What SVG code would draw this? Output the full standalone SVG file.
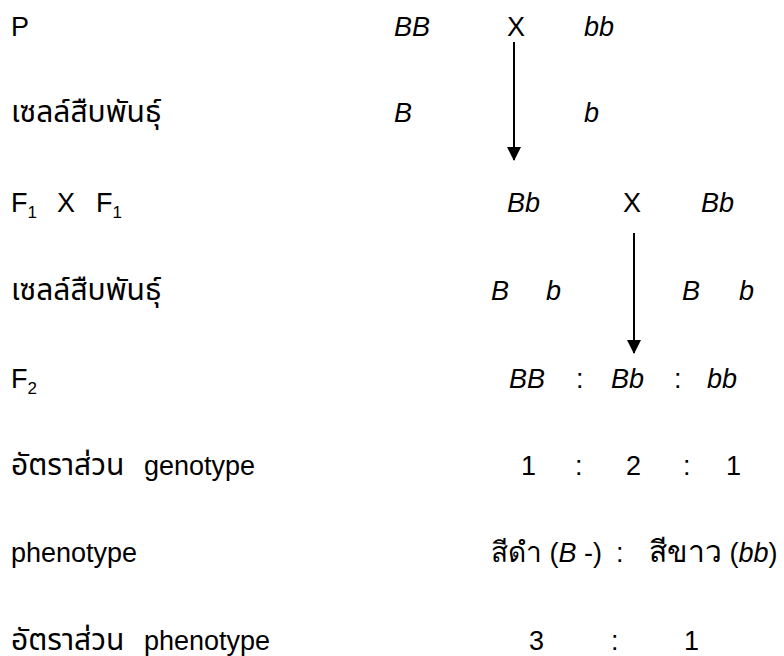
<svg xmlns="http://www.w3.org/2000/svg" width="784" height="656" viewBox="0 0 784 656">
<style>
text{font-family:"Liberation Sans","Noto Sans",Arial,sans-serif;font-size:27px;fill:#000}
.i{font-style:italic}
.th{font-family:"Liberation Sans","Noto Sans Thai","DejaVu Sans","Noto Sans",sans-serif;font-size:30px}
.sub{font-size:17px}
.conn{stroke:#000;stroke-width:2;fill:none}
</style>
<defs>
<marker id="ah" markerWidth="14" markerHeight="14" refX="13" refY="7" orient="auto" markerUnits="userSpaceOnUse" viewBox="0 0 14 14">
<path d="M0,0 L14,7 L0,14 Z" fill="#000"/>
</marker>
</defs>
<rect width="784" height="656" fill="#fff"/>
<g id="labels">
<text x="11" y="36">P</text>
<text class="th" x="11" y="122">เซลล์สืบพันธุ์</text>
<text x="11" y="212">F<tspan class="sub" dy="6">1</tspan><tspan dy="-6" x="57">X</tspan><tspan x="96">F</tspan><tspan class="sub" dy="6">1</tspan></text>
<text class="th" x="11" y="300">เซลล์สืบพันธุ์</text>
<text x="11" y="388">F<tspan class="sub" dy="6">2</tspan></text>
<text x="11" y="475"><tspan class="th">อัตราส่วน</tspan> <tspan x="144">genotype</tspan></text>
<text x="11" y="562">phenotype</text>
<text x="11" y="650"><tspan class="th">อัตราส่วน</tspan> <tspan x="144">phenotype</tspan></text>
</g>
<g id="parents">
<text class="i" x="394" y="36">BB</text>
<text x="507" y="36">X</text>
<text class="i" x="584" y="36">bb</text>
</g>
<g id="gametes1">
<text class="i" x="394" y="122">B</text>
<text class="i" x="584" y="122">b</text>
</g>
<g id="f1cross">
<text class="i" x="507" y="212">Bb</text>
<text x="623" y="212">X</text>
<text class="i" x="701" y="212">Bb</text>
</g>
<g id="gametes2">
<text class="i" x="491" y="300">B</text>
<text class="i" x="546" y="300">b</text>
<text class="i" x="682" y="300">B</text>
<text class="i" x="739" y="300">b</text>
</g>
<g id="f2">
<text class="i" x="509" y="388">BB</text>
<text x="576" y="388">:</text>
<text class="i" x="611" y="388">Bb</text>
<text x="674" y="388">:</text>
<text class="i" x="707" y="388">bb</text>
</g>
<g id="genoratio">
<text x="521" y="475">1</text>
<text x="575" y="475">:</text>
<text x="626" y="475">2</text>
<text x="683" y="475">:</text>
<text x="726" y="475">1</text>
</g>
<g id="pheno">
<text x="491" y="562"><tspan style="font-size:28px">สีดำ</tspan> (<tspan class="i">B</tspan> -)</text>
<text x="616" y="562">:</text>
<text x="649" y="562"><tspan style="font-size:30px">สีขาว</tspan> (<tspan class="i">bb</tspan>)</text>
</g>
<g id="phenoratio">
<text x="529" y="650">3</text>
<text x="611" y="650">:</text>
<text x="684" y="650">1</text>
</g>
<g id="connectors">
<line class="conn" x1="514" y1="42" x2="514" y2="160" marker-end="url(#ah)"/>
<line class="conn" x1="634" y1="233" x2="634" y2="353" marker-end="url(#ah)"/>
</g>
</svg>
